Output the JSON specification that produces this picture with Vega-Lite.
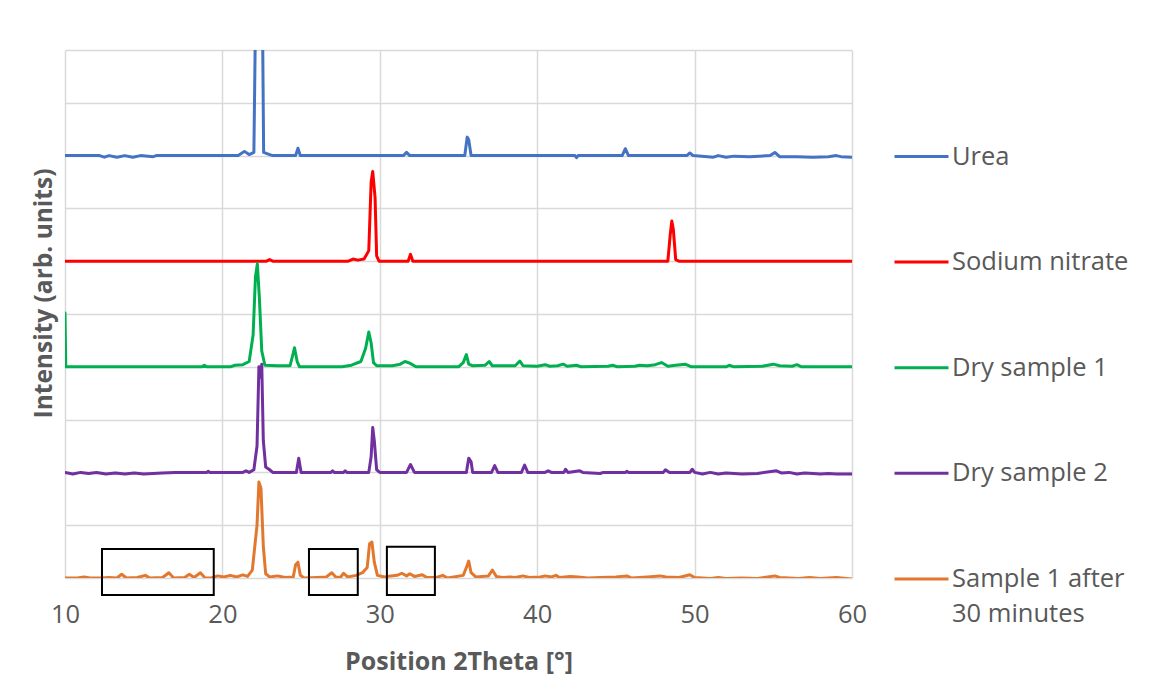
{
  "$schema": "https://vega.github.io/schema/vega-lite/v6.json",
  "width": 787,
  "height": 528,
  "autosize": {"type": "none"},
  "padding": {"left": 65, "top": 50, "right": 305, "bottom": 114},
  "background": "white",
  "config": {
    "view": {"stroke": null},
    "font": "Open Sans",
    "style": {"guide-label": {"lineHeight": 35}}
  },
  "datasets": {
    "xrd": [
      {"s":"Urea","x":10.0,"y":8.0},{"s":"Urea","x":12.2,"y":8.0},{"s":"Urea","x":12.5,"y":7.97},{"s":"Urea","x":12.8,"y":8.0},{"s":"Urea","x":13.3,"y":7.97},{"s":"Urea","x":13.8,"y":8.0},{"s":"Urea","x":14.3,"y":7.97},{"s":"Urea","x":14.8,"y":8.0},{"s":"Urea","x":15.6,"y":7.98},{"s":"Urea","x":15.8,"y":8.0},{"s":"Urea","x":21.0,"y":8.0},{"s":"Urea","x":21.4,"y":8.08},{"s":"Urea","x":21.7,"y":8.02},{"s":"Urea","x":22.0,"y":8.06},{"s":"Urea","x":22.24,"y":14.0},{"s":"Urea","x":22.45,"y":14.0},{"s":"Urea","x":22.62,"y":8.06},{"s":"Urea","x":23.0,"y":8.02},{"s":"Urea","x":23.2,"y":8.0},{"s":"Urea","x":24.65,"y":8.0},{"s":"Urea","x":24.8,"y":8.14},{"s":"Urea","x":24.95,"y":8.0},{"s":"Urea","x":31.5,"y":8.0},{"s":"Urea","x":31.7,"y":8.06},{"s":"Urea","x":31.9,"y":8.0},{"s":"Urea","x":35.4,"y":8.0},{"s":"Urea","x":35.55,"y":8.35},{"s":"Urea","x":35.65,"y":8.3},{"s":"Urea","x":35.8,"y":8.0},{"s":"Urea","x":42.4,"y":8.0},{"s":"Urea","x":42.5,"y":7.96},{"s":"Urea","x":42.6,"y":8.0},{"s":"Urea","x":45.4,"y":8.0},{"s":"Urea","x":45.6,"y":8.13},{"s":"Urea","x":45.8,"y":8.0},{"s":"Urea","x":49.5,"y":8.0},{"s":"Urea","x":49.7,"y":8.05},{"s":"Urea","x":49.9,"y":8.0},{"s":"Urea","x":51.2,"y":7.97},{"s":"Urea","x":51.5,"y":8.0},{"s":"Urea","x":52.0,"y":7.97},{"s":"Urea","x":52.5,"y":7.99},{"s":"Urea","x":53.5,"y":7.98},{"s":"Urea","x":54.8,"y":8.0},{"s":"Urea","x":55.1,"y":8.06},{"s":"Urea","x":55.4,"y":7.98},{"s":"Urea","x":56.5,"y":7.98},{"s":"Urea","x":57.5,"y":7.97},{"s":"Urea","x":58.5,"y":7.98},{"s":"Urea","x":59.0,"y":8.0},{"s":"Urea","x":59.3,"y":7.98},{"s":"Urea","x":60.0,"y":7.97},

      {"s":"Sodium nitrate","x":10.0,"y":6.0},{"s":"Sodium nitrate","x":22.8,"y":6.0},{"s":"Sodium nitrate","x":23.0,"y":6.03},{"s":"Sodium nitrate","x":23.2,"y":6.0},{"s":"Sodium nitrate","x":28.0,"y":6.0},{"s":"Sodium nitrate","x":28.3,"y":6.04},{"s":"Sodium nitrate","x":28.6,"y":6.02},{"s":"Sodium nitrate","x":29.0,"y":6.04},{"s":"Sodium nitrate","x":29.3,"y":6.2},{"s":"Sodium nitrate","x":29.45,"y":7.5},{"s":"Sodium nitrate","x":29.55,"y":7.7},{"s":"Sodium nitrate","x":29.7,"y":7.2},{"s":"Sodium nitrate","x":29.8,"y":6.1},{"s":"Sodium nitrate","x":29.95,"y":6.0},{"s":"Sodium nitrate","x":31.8,"y":6.0},{"s":"Sodium nitrate","x":31.95,"y":6.13},{"s":"Sodium nitrate","x":32.1,"y":6.0},{"s":"Sodium nitrate","x":48.3,"y":6.0},{"s":"Sodium nitrate","x":48.45,"y":6.5},{"s":"Sodium nitrate","x":48.55,"y":6.76},{"s":"Sodium nitrate","x":48.65,"y":6.6},{"s":"Sodium nitrate","x":48.8,"y":6.03},{"s":"Sodium nitrate","x":49.0,"y":6.0},{"s":"Sodium nitrate","x":60.0,"y":6.0},

      {"s":"Dry sample 1","x":10.0,"y":5.02},{"s":"Dry sample 1","x":10.05,"y":4.0},{"s":"Dry sample 1","x":18.7,"y":4.0},{"s":"Dry sample 1","x":18.85,"y":4.03},{"s":"Dry sample 1","x":19.0,"y":4.0},{"s":"Dry sample 1","x":20.5,"y":4.0},{"s":"Dry sample 1","x":20.8,"y":4.03},{"s":"Dry sample 1","x":21.3,"y":4.04},{"s":"Dry sample 1","x":21.7,"y":4.1},{"s":"Dry sample 1","x":21.95,"y":4.6},{"s":"Dry sample 1","x":22.1,"y":5.7},{"s":"Dry sample 1","x":22.22,"y":5.95},{"s":"Dry sample 1","x":22.35,"y":5.3},{"s":"Dry sample 1","x":22.5,"y":4.3},{"s":"Dry sample 1","x":22.7,"y":4.03},{"s":"Dry sample 1","x":23.5,"y":4.02},{"s":"Dry sample 1","x":24.3,"y":4.02},{"s":"Dry sample 1","x":24.45,"y":4.2},{"s":"Dry sample 1","x":24.58,"y":4.36},{"s":"Dry sample 1","x":24.75,"y":4.1},{"s":"Dry sample 1","x":24.9,"y":4.0},{"s":"Dry sample 1","x":27.6,"y":4.0},{"s":"Dry sample 1","x":28.2,"y":4.03},{"s":"Dry sample 1","x":28.8,"y":4.1},{"s":"Dry sample 1","x":29.1,"y":4.35},{"s":"Dry sample 1","x":29.3,"y":4.66},{"s":"Dry sample 1","x":29.45,"y":4.45},{"s":"Dry sample 1","x":29.6,"y":4.08},{"s":"Dry sample 1","x":29.8,"y":4.02},{"s":"Dry sample 1","x":30.8,"y":4.02},{"s":"Dry sample 1","x":31.3,"y":4.05},{"s":"Dry sample 1","x":31.6,"y":4.1},{"s":"Dry sample 1","x":31.9,"y":4.07},{"s":"Dry sample 1","x":32.3,"y":4.0},{"s":"Dry sample 1","x":35.0,"y":4.0},{"s":"Dry sample 1","x":35.3,"y":4.08},{"s":"Dry sample 1","x":35.5,"y":4.23},{"s":"Dry sample 1","x":35.65,"y":4.05},{"s":"Dry sample 1","x":35.9,"y":4.02},{"s":"Dry sample 1","x":36.7,"y":4.03},{"s":"Dry sample 1","x":36.95,"y":4.1},{"s":"Dry sample 1","x":37.15,"y":4.02},{"s":"Dry sample 1","x":38.6,"y":4.02},{"s":"Dry sample 1","x":38.9,"y":4.11},{"s":"Dry sample 1","x":39.1,"y":4.02},{"s":"Dry sample 1","x":40.0,"y":4.01},{"s":"Dry sample 1","x":40.5,"y":4.04},{"s":"Dry sample 1","x":40.8,"y":4.01},{"s":"Dry sample 1","x":41.3,"y":4.02},{"s":"Dry sample 1","x":41.65,"y":4.05},{"s":"Dry sample 1","x":41.9,"y":4.01},{"s":"Dry sample 1","x":42.5,"y":4.03},{"s":"Dry sample 1","x":42.8,"y":4.0},{"s":"Dry sample 1","x":44.5,"y":4.01},{"s":"Dry sample 1","x":44.8,"y":4.03},{"s":"Dry sample 1","x":45.1,"y":4.0},{"s":"Dry sample 1","x":46.2,"y":4.01},{"s":"Dry sample 1","x":46.5,"y":4.03},{"s":"Dry sample 1","x":47.0,"y":4.02},{"s":"Dry sample 1","x":47.5,"y":4.04},{"s":"Dry sample 1","x":47.9,"y":4.08},{"s":"Dry sample 1","x":48.3,"y":4.01},{"s":"Dry sample 1","x":48.8,"y":4.03},{"s":"Dry sample 1","x":49.4,"y":4.05},{"s":"Dry sample 1","x":49.8,"y":4.0},{"s":"Dry sample 1","x":52.0,"y":4.0},{"s":"Dry sample 1","x":52.2,"y":4.03},{"s":"Dry sample 1","x":52.5,"y":4.0},{"s":"Dry sample 1","x":54.3,"y":4.01},{"s":"Dry sample 1","x":55.0,"y":4.05},{"s":"Dry sample 1","x":55.4,"y":4.02},{"s":"Dry sample 1","x":56.2,"y":4.01},{"s":"Dry sample 1","x":56.5,"y":4.04},{"s":"Dry sample 1","x":56.8,"y":4.0},{"s":"Dry sample 1","x":60.0,"y":4.0},

      {"s":"Dry sample 2","x":10.0,"y":2.0},{"s":"Dry sample 2","x":10.5,"y":1.97},{"s":"Dry sample 2","x":11.0,"y":2.0},{"s":"Dry sample 2","x":11.5,"y":1.98},{"s":"Dry sample 2","x":12.0,"y":2.0},{"s":"Dry sample 2","x":12.6,"y":1.97},{"s":"Dry sample 2","x":13.2,"y":1.99},{"s":"Dry sample 2","x":13.8,"y":1.97},{"s":"Dry sample 2","x":14.4,"y":1.99},{"s":"Dry sample 2","x":15.0,"y":1.97},{"s":"Dry sample 2","x":15.6,"y":1.98},{"s":"Dry sample 2","x":16.2,"y":1.99},{"s":"Dry sample 2","x":17.0,"y":2.0},{"s":"Dry sample 2","x":19.0,"y":2.0},{"s":"Dry sample 2","x":19.1,"y":2.02},{"s":"Dry sample 2","x":19.2,"y":2.0},{"s":"Dry sample 2","x":21.3,"y":2.0},{"s":"Dry sample 2","x":21.5,"y":2.03},{"s":"Dry sample 2","x":21.7,"y":2.0},{"s":"Dry sample 2","x":22.0,"y":2.05},{"s":"Dry sample 2","x":22.2,"y":2.5},{"s":"Dry sample 2","x":22.32,"y":4.0},{"s":"Dry sample 2","x":22.42,"y":3.8},{"s":"Dry sample 2","x":22.5,"y":4.05},{"s":"Dry sample 2","x":22.6,"y":2.6},{"s":"Dry sample 2","x":22.75,"y":2.1},{"s":"Dry sample 2","x":23.0,"y":2.05},{"s":"Dry sample 2","x":23.2,"y":2.0},{"s":"Dry sample 2","x":24.7,"y":2.0},{"s":"Dry sample 2","x":24.85,"y":2.27},{"s":"Dry sample 2","x":25.0,"y":2.0},{"s":"Dry sample 2","x":26.9,"y":2.0},{"s":"Dry sample 2","x":27.0,"y":2.03},{"s":"Dry sample 2","x":27.1,"y":2.0},{"s":"Dry sample 2","x":27.7,"y":2.0},{"s":"Dry sample 2","x":27.8,"y":2.03},{"s":"Dry sample 2","x":27.9,"y":2.0},{"s":"Dry sample 2","x":29.3,"y":2.0},{"s":"Dry sample 2","x":29.45,"y":2.3},{"s":"Dry sample 2","x":29.55,"y":2.85},{"s":"Dry sample 2","x":29.65,"y":2.6},{"s":"Dry sample 2","x":29.8,"y":2.05},{"s":"Dry sample 2","x":30.0,"y":2.0},{"s":"Dry sample 2","x":31.7,"y":2.0},{"s":"Dry sample 2","x":31.95,"y":2.15},{"s":"Dry sample 2","x":32.2,"y":2.0},{"s":"Dry sample 2","x":35.5,"y":2.0},{"s":"Dry sample 2","x":35.65,"y":2.27},{"s":"Dry sample 2","x":35.8,"y":2.2},{"s":"Dry sample 2","x":35.9,"y":2.0},{"s":"Dry sample 2","x":37.1,"y":2.0},{"s":"Dry sample 2","x":37.3,"y":2.13},{"s":"Dry sample 2","x":37.5,"y":2.0},{"s":"Dry sample 2","x":39.0,"y":2.0},{"s":"Dry sample 2","x":39.2,"y":2.14},{"s":"Dry sample 2","x":39.4,"y":2.0},{"s":"Dry sample 2","x":40.5,"y":2.0},{"s":"Dry sample 2","x":40.7,"y":2.03},{"s":"Dry sample 2","x":40.9,"y":2.0},{"s":"Dry sample 2","x":41.7,"y":2.0},{"s":"Dry sample 2","x":41.8,"y":2.06},{"s":"Dry sample 2","x":41.95,"y":2.0},{"s":"Dry sample 2","x":42.7,"y":2.03},{"s":"Dry sample 2","x":42.9,"y":2.0},{"s":"Dry sample 2","x":44.0,"y":1.98},{"s":"Dry sample 2","x":44.2,"y":2.0},{"s":"Dry sample 2","x":45.6,"y":2.0},{"s":"Dry sample 2","x":45.7,"y":2.02},{"s":"Dry sample 2","x":45.8,"y":2.0},{"s":"Dry sample 2","x":48.0,"y":2.0},{"s":"Dry sample 2","x":48.15,"y":2.05},{"s":"Dry sample 2","x":48.4,"y":2.0},{"s":"Dry sample 2","x":49.7,"y":2.0},{"s":"Dry sample 2","x":49.85,"y":2.06},{"s":"Dry sample 2","x":50.0,"y":2.0},{"s":"Dry sample 2","x":50.5,"y":1.97},{"s":"Dry sample 2","x":51.0,"y":2.0},{"s":"Dry sample 2","x":51.5,"y":1.97},{"s":"Dry sample 2","x":52.0,"y":1.99},{"s":"Dry sample 2","x":53.0,"y":1.97},{"s":"Dry sample 2","x":54.0,"y":1.98},{"s":"Dry sample 2","x":55.2,"y":2.03},{"s":"Dry sample 2","x":55.5,"y":1.99},{"s":"Dry sample 2","x":56.0,"y":2.0},{"s":"Dry sample 2","x":56.5,"y":1.97},{"s":"Dry sample 2","x":57.0,"y":1.99},{"s":"Dry sample 2","x":58.0,"y":1.97},{"s":"Dry sample 2","x":58.5,"y":1.98},{"s":"Dry sample 2","x":59.0,"y":1.97},{"s":"Dry sample 2","x":60.0,"y":1.97},

      {"s":"Sample 1 after 30 minutes","x":10.0,"y":0.0},{"s":"Sample 1 after 30 minutes","x":10.8,"y":0.0},{"s":"Sample 1 after 30 minutes","x":11.2,"y":0.02},{"s":"Sample 1 after 30 minutes","x":11.6,"y":0.0},{"s":"Sample 1 after 30 minutes","x":12.3,"y":0.0},{"s":"Sample 1 after 30 minutes","x":12.8,"y":0.01},{"s":"Sample 1 after 30 minutes","x":13.3,"y":0.0},{"s":"Sample 1 after 30 minutes","x":13.6,"y":0.07},{"s":"Sample 1 after 30 minutes","x":13.9,"y":0.0},{"s":"Sample 1 after 30 minutes","x":14.6,"y":0.01},{"s":"Sample 1 after 30 minutes","x":15.1,"y":0.05},{"s":"Sample 1 after 30 minutes","x":15.4,"y":0.0},{"s":"Sample 1 after 30 minutes","x":16.2,"y":0.01},{"s":"Sample 1 after 30 minutes","x":16.6,"y":0.1},{"s":"Sample 1 after 30 minutes","x":16.9,"y":0.0},{"s":"Sample 1 after 30 minutes","x":17.6,"y":0.01},{"s":"Sample 1 after 30 minutes","x":17.9,"y":0.07},{"s":"Sample 1 after 30 minutes","x":18.2,"y":0.01},{"s":"Sample 1 after 30 minutes","x":18.6,"y":0.1},{"s":"Sample 1 after 30 minutes","x":18.9,"y":0.0},{"s":"Sample 1 after 30 minutes","x":19.3,"y":0.0},{"s":"Sample 1 after 30 minutes","x":19.7,"y":0.04},{"s":"Sample 1 after 30 minutes","x":20.1,"y":0.02},{"s":"Sample 1 after 30 minutes","x":20.5,"y":0.05},{"s":"Sample 1 after 30 minutes","x":20.9,"y":0.02},{"s":"Sample 1 after 30 minutes","x":21.3,"y":0.06},{"s":"Sample 1 after 30 minutes","x":21.6,"y":0.03},{"s":"Sample 1 after 30 minutes","x":21.9,"y":0.15},{"s":"Sample 1 after 30 minutes","x":22.2,"y":1.0},{"s":"Sample 1 after 30 minutes","x":22.32,"y":1.82},{"s":"Sample 1 after 30 minutes","x":22.45,"y":1.7},{"s":"Sample 1 after 30 minutes","x":22.6,"y":0.6},{"s":"Sample 1 after 30 minutes","x":22.75,"y":0.08},{"s":"Sample 1 after 30 minutes","x":23.0,"y":0.02},{"s":"Sample 1 after 30 minutes","x":23.5,"y":0.04},{"s":"Sample 1 after 30 minutes","x":24.0,"y":0.01},{"s":"Sample 1 after 30 minutes","x":24.5,"y":0.02},{"s":"Sample 1 after 30 minutes","x":24.65,"y":0.25},{"s":"Sample 1 after 30 minutes","x":24.8,"y":0.3},{"s":"Sample 1 after 30 minutes","x":24.95,"y":0.05},{"s":"Sample 1 after 30 minutes","x":25.2,"y":0.0},{"s":"Sample 1 after 30 minutes","x":26.0,"y":0.01},{"s":"Sample 1 after 30 minutes","x":26.6,"y":0.02},{"s":"Sample 1 after 30 minutes","x":26.95,"y":0.1},{"s":"Sample 1 after 30 minutes","x":27.2,"y":0.02},{"s":"Sample 1 after 30 minutes","x":27.5,"y":0.01},{"s":"Sample 1 after 30 minutes","x":27.7,"y":0.09},{"s":"Sample 1 after 30 minutes","x":27.95,"y":0.02},{"s":"Sample 1 after 30 minutes","x":28.5,"y":0.05},{"s":"Sample 1 after 30 minutes","x":28.9,"y":0.1},{"s":"Sample 1 after 30 minutes","x":29.2,"y":0.2},{"s":"Sample 1 after 30 minutes","x":29.35,"y":0.65},{"s":"Sample 1 after 30 minutes","x":29.5,"y":0.68},{"s":"Sample 1 after 30 minutes","x":29.65,"y":0.3},{"s":"Sample 1 after 30 minutes","x":29.85,"y":0.05},{"s":"Sample 1 after 30 minutes","x":30.3,"y":0.02},{"s":"Sample 1 after 30 minutes","x":30.7,"y":0.04},{"s":"Sample 1 after 30 minutes","x":31.1,"y":0.05},{"s":"Sample 1 after 30 minutes","x":31.4,"y":0.09},{"s":"Sample 1 after 30 minutes","x":31.7,"y":0.04},{"s":"Sample 1 after 30 minutes","x":31.9,"y":0.08},{"s":"Sample 1 after 30 minutes","x":32.2,"y":0.03},{"s":"Sample 1 after 30 minutes","x":32.7,"y":0.06},{"s":"Sample 1 after 30 minutes","x":33.0,"y":0.01},{"s":"Sample 1 after 30 minutes","x":33.6,"y":0.01},{"s":"Sample 1 after 30 minutes","x":34.0,"y":0.05},{"s":"Sample 1 after 30 minutes","x":34.3,"y":0.0},{"s":"Sample 1 after 30 minutes","x":35.3,"y":0.05},{"s":"Sample 1 after 30 minutes","x":35.5,"y":0.2},{"s":"Sample 1 after 30 minutes","x":35.65,"y":0.32},{"s":"Sample 1 after 30 minutes","x":35.8,"y":0.1},{"s":"Sample 1 after 30 minutes","x":36.1,"y":0.02},{"s":"Sample 1 after 30 minutes","x":36.9,"y":0.04},{"s":"Sample 1 after 30 minutes","x":37.15,"y":0.15},{"s":"Sample 1 after 30 minutes","x":37.4,"y":0.03},{"s":"Sample 1 after 30 minutes","x":37.8,"y":0.01},{"s":"Sample 1 after 30 minutes","x":38.3,"y":0.02},{"s":"Sample 1 after 30 minutes","x":38.6,"y":0.01},{"s":"Sample 1 after 30 minutes","x":39.1,"y":0.04},{"s":"Sample 1 after 30 minutes","x":39.5,"y":0.01},{"s":"Sample 1 after 30 minutes","x":40.2,"y":0.02},{"s":"Sample 1 after 30 minutes","x":40.5,"y":0.04},{"s":"Sample 1 after 30 minutes","x":40.9,"y":0.02},{"s":"Sample 1 after 30 minutes","x":41.2,"y":0.05},{"s":"Sample 1 after 30 minutes","x":41.4,"y":0.01},{"s":"Sample 1 after 30 minutes","x":42.1,"y":0.03},{"s":"Sample 1 after 30 minutes","x":42.6,"y":0.02},{"s":"Sample 1 after 30 minutes","x":43.2,"y":0.0},{"s":"Sample 1 after 30 minutes","x":44.0,"y":0.01},{"s":"Sample 1 after 30 minutes","x":45.0,"y":0.02},{"s":"Sample 1 after 30 minutes","x":45.7,"y":0.04},{"s":"Sample 1 after 30 minutes","x":46.0,"y":0.0},{"s":"Sample 1 after 30 minutes","x":47.0,"y":0.02},{"s":"Sample 1 after 30 minutes","x":47.8,"y":0.04},{"s":"Sample 1 after 30 minutes","x":48.2,"y":0.02},{"s":"Sample 1 after 30 minutes","x":49.0,"y":0.01},{"s":"Sample 1 after 30 minutes","x":49.7,"y":0.06},{"s":"Sample 1 after 30 minutes","x":50.0,"y":0.01},{"s":"Sample 1 after 30 minutes","x":51.0,"y":-0.01},{"s":"Sample 1 after 30 minutes","x":51.5,"y":0.01},{"s":"Sample 1 after 30 minutes","x":52.0,"y":-0.01},{"s":"Sample 1 after 30 minutes","x":53.0,"y":0.0},{"s":"Sample 1 after 30 minutes","x":54.0,"y":-0.01},{"s":"Sample 1 after 30 minutes","x":55.1,"y":0.04},{"s":"Sample 1 after 30 minutes","x":55.4,"y":0.01},{"s":"Sample 1 after 30 minutes","x":56.0,"y":0.0},{"s":"Sample 1 after 30 minutes","x":56.6,"y":-0.01},{"s":"Sample 1 after 30 minutes","x":57.3,"y":0.01},{"s":"Sample 1 after 30 minutes","x":58.0,"y":-0.01},{"s":"Sample 1 after 30 minutes","x":59.0,"y":0.01},{"s":"Sample 1 after 30 minutes","x":60.0,"y":-0.02}
    ],
    "boxes": [
      {"x1":12.35,"x2":19.45,"y1":-0.32,"y2":0.55},
      {"x1":25.5,"x2":28.6,"y1":-0.32,"y2":0.55},
      {"x1":30.45,"x2":33.5,"y1":-0.32,"y2":0.59}
    ]
  },
  "layer": [
    {
      "data": {"name": "xrd"},
      "mark": {"type": "line", "strokeWidth": 3, "clip": true, "strokeJoin": "round", "strokeCap": "round"},
      "encoding": {
        "x": {
          "field": "x", "type": "quantitative",
          "scale": {"domain": [10, 60], "nice": false, "zero": false},
          "axis": {
            "values": [10, 20, 30, 40, 50, 60],
            "title": "Position 2Theta [°]",
            "domain": false, "ticks": false, "tickSize": 0,
            "grid": true, "gridColor": "#D9D9D9", "gridWidth": 1.5,
            "labelFlush": false,
            "labelFontSize": 25.5, "labelColor": "#595959", "labelPadding": 24,
            "titleFontSize": 25, "titleFontWeight": "bold", "titleColor": "#595959", "titlePadding": 22
          }
        },
        "y": {
          "field": "y", "type": "quantitative",
          "scale": {"domain": [0, 10], "nice": false, "zero": false},
          "axis": {
            "values": [0, 1, 2, 3, 4, 5, 6, 7, 8, 9, 10],
            "title": "Intensity (arb. units)",
            "labels": false, "domain": false, "ticks": false, "tickSize": 0,
            "grid": true, "gridColor": "#D9D9D9", "gridWidth": 1.5,
            "titleFontSize": 24.5, "titleFontWeight": "bold", "titleColor": "#595959", "titlePadding": 9,
            "titleY": 243
          }
        },
        "color": {
          "field": "s", "type": "nominal",
          "scale": {
            "domain": ["Urea", "Sodium nitrate", "Dry sample 1", "Dry sample 2", "Sample 1 after 30 minutes"],
            "range": ["#4472C4", "#FF0000", "#00B050", "#7030A0", "#E2782E"]
          },
          "legend": {
            "title": null,
            "orient": "none",
            "legendX": 828,
            "legendY": 78,
            "padding": 0,
            "symbolType": "stroke",
            "symbolSize": 2916,
            "symbolStrokeWidth": 3,
            "rowPadding": 63.6,
            "labelFontSize": 25.5,
            "labelColor": "#595959",
            "labelOffset": 2,
            "labelLimit": 400,
            "labelExpr": "datum.label == 'Sample 1 after 30 minutes' ? ['Sample 1 after', '30 minutes'] : datum.label"
          }
        },
        "order": {"field": "x", "type": "quantitative"}
      }
    },
    {
      "data": {"name": "boxes"},
      "mark": {"type": "rect", "fill": null, "fillOpacity": 0, "stroke": "black", "strokeWidth": 2},
      "encoding": {
        "x": {"field": "x1", "type": "quantitative"},
        "x2": {"field": "x2"},
        "y": {"field": "y1", "type": "quantitative"},
        "y2": {"field": "y2"}
      }
    }
  ]
}
